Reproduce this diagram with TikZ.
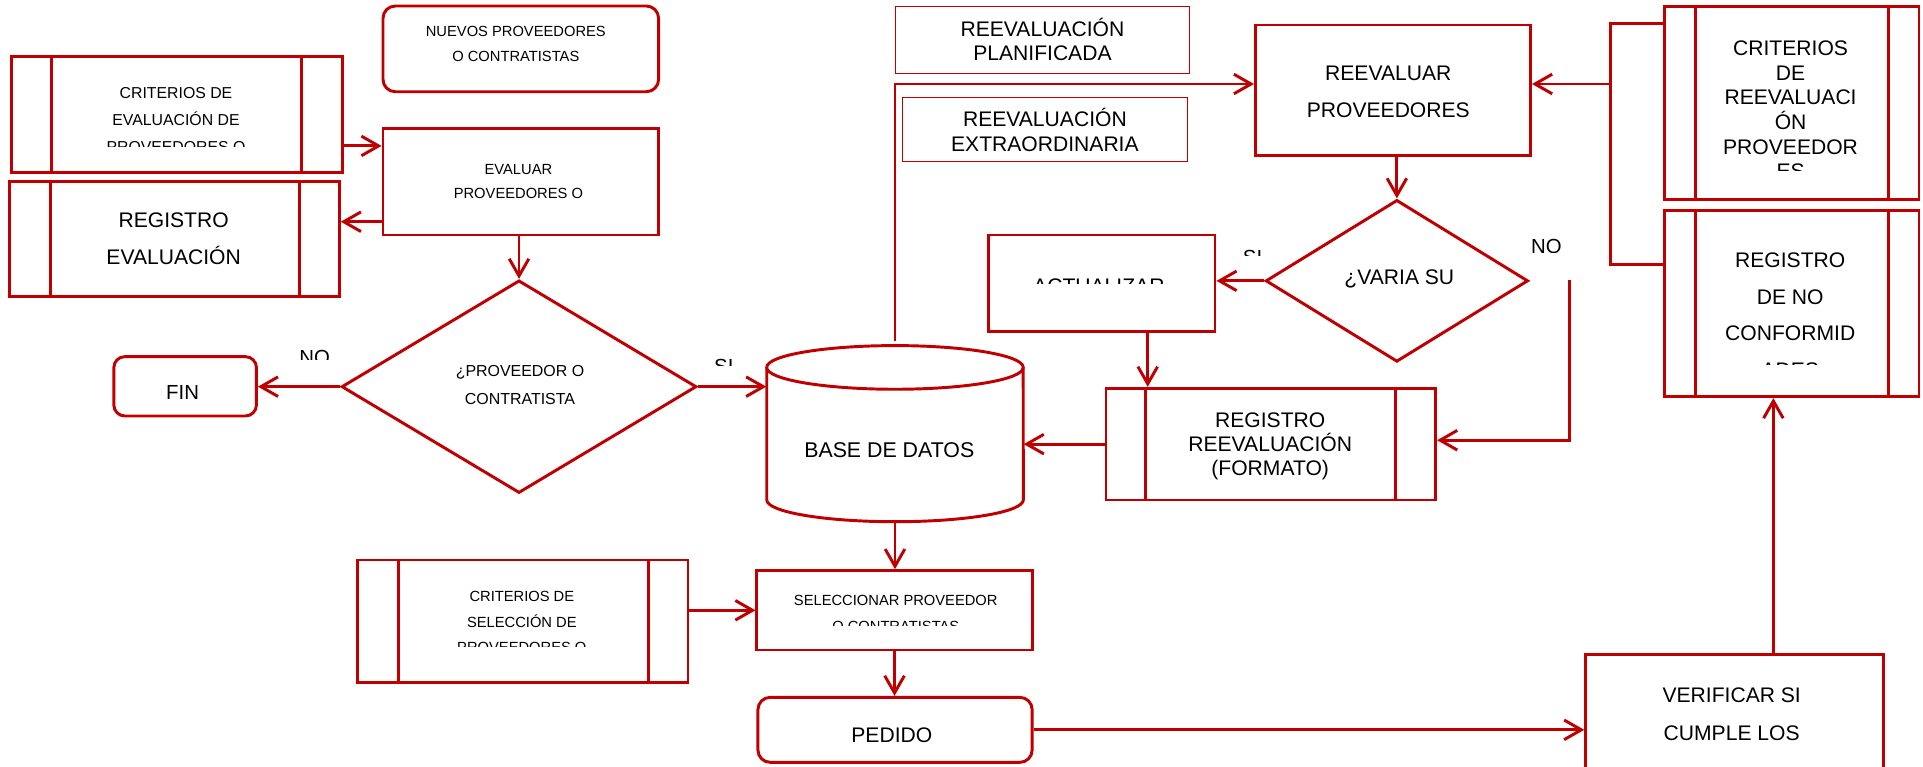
\documentclass[tikz,border=0pt]{standalone}
\usepackage{fontspec}
\setmainfont{Liberation Sans}
\usetikzlibrary{arrows.meta,fit,shapes.geometric}
\definecolor{rd}{RGB}{192,0,0}
\newcommand{\fsz}[2]{\fontsize{#1}{#2}\selectfont\lineskiplimit=-100pt\relax}
\begin{document}
\begin{tikzpicture}[x=0.5pt,y=-0.5pt,
  bx/.style={draw=rd, line width=1.2pt, inner sep=0pt},
  rbx/.style={bx, rounded corners=5pt},
  thinbx/.style={draw=rd, line width=0.5pt, inner sep=0pt},
  hid/.style={inner sep=0pt},
  dia/.style={draw=rd, line width=1.2pt, diamond, inner sep=0pt},
  ln/.style={draw=rd, line width=1.2pt},
  arr/.style={ln, -{Straight Barb[length=7pt,width=8pt]}},
  txt/.style={inner sep=0pt, align=center, anchor=base, text=black}]
\useasboundingbox (0,0) rectangle (1568,625);
\clip (0,0) rectangle (1568,625);
\fill[white] (0,0) rectangle (1568,625);

% boxes
\node[rbx, fit={(312.3,4.9) (537,74.8)}] (nuevos) {};
\node[bx, fit={(9,46.2) (278.9,140.8)}] (critEval) {};
\node[bx, fit={(312.3,104.6) (537,191.6)}] (evaluar) {};
\node[bx, fit={(8,148.1) (276.7,241.9)}] (regEval) {};
\node[dia, minimum width=144.7pt, minimum height=86.7pt] (dia1) at (423.2,315.3) {};
\node[bx, rounded corners=4.5pt, fit={(92.8,290.8) (209.1,339.2)}] (fin) {};
\node[hid, fit={(625.2,281.8) (834.3,425.4)}] (cyl) {};
\node[thinbx, fit={(730.3,5.4) (969.7,59.8)}] (plan) {};
\node[thinbx, fit={(735.7,79.6) (968,131.8)}] (extra) {};
\node[bx, fit={(1023.7,20.4) (1248,127)}] (reev) {};
\node[bx, fit={(1357.4,5.4) (1564.7,163)}] (critReev) {};
\node[bx, fit={(1357.4,172) (1564.7,323.4)}] (regNC) {};
\node[dia, minimum width=107pt, minimum height=66pt] (dia2) at (1139,229) {};
\node[bx, fit={(806,191.6) (990.7,270.4)}] (act) {};
\node[bx, fit={(901.8,316.6) (1170.6,407.7)}] (regReev) {};
\node[bx, fit={(617.2,465.3) (841.6,530)}] (sel) {};
\node[bx, fit={(291.8,456.6) (561,556.6)}] (critSel) {};
\node[rbx, fit={(618,568.6) (841.6,621.6)}] (ped) {};
\node[bx, fit={(1293,534) (1536,700)}] (ver) {};

% predefined-process inner lines
\draw[ln] ([xshift=17pt]critEval.north west) -- ([xshift=17pt]critEval.south west);
\draw[ln] ([xshift=-17.15pt]critEval.north east) -- ([xshift=-17.15pt]critEval.south east);
\draw[ln] ([xshift=17pt]regEval.north west) -- ([xshift=17pt]regEval.south west);
\draw[ln] ([xshift=-16.75pt]regEval.north east) -- ([xshift=-16.75pt]regEval.south east);
\draw[ln] ([xshift=12.95pt]critReev.north west) -- ([xshift=12.95pt]critReev.south west);
\draw[ln] ([xshift=-12.95pt]critReev.north east) -- ([xshift=-12.95pt]critReev.south east);
\draw[ln] ([xshift=12.95pt]regNC.north west) -- ([xshift=12.95pt]regNC.south west);
\draw[ln] ([xshift=-12.95pt]regNC.north east) -- ([xshift=-12.95pt]regNC.south east);
\draw[ln] ([xshift=16.75pt]regReev.north west) -- ([xshift=16.75pt]regReev.south west);
\draw[ln] ([xshift=-16.8pt]regReev.north east) -- ([xshift=-16.8pt]regReev.south east);
\draw[ln] ([xshift=17pt]critSel.north west) -- ([xshift=17pt]critSel.south west);
\draw[ln] ([xshift=-16.8pt]critSel.north east) -- ([xshift=-16.8pt]critSel.south east);

% cylinder
\draw[ln] (729.75,299.6) ellipse [x radius=52.3pt, y radius=8.9pt];
\draw[ln] (625.2,299.6) -- (625.2,407.6) arc[start angle=180, end angle=360, x radius=52.3pt, y radius=8.9pt] -- (834.3,299.6);

% texts (anchor base = last line baseline)
\node[txt, font=\fsz{6}{10.2}] (nuevos-t) at (420.6,50.5) {NUEVOS PROVEEDORES\\O CONTRATISTAS};
\begin{scope}
\clip (0,0) rectangle (1568,119.6);
\node[txt, font=\fsz{6.45}{11.1}] (critEval-t) at (143.5,124.6) {CRITERIOS DE\\EVALUACIÓN DE\\PROVEEDORES O};
\end{scope}
\node[txt, font=\fsz{6}{9.8}] (evaluar-t) at (422.7,161.9) {EVALUAR\\PROVEEDORES O};
\node[txt, font=\fsz{8.6}{14.95}] (regEval-t) at (141.6,215.5) {REGISTRO\\EVALUACIÓN};
\node[txt, font=\fsz{6.5}{11.3}] (dia1-t) at (424,329.5) {¿PROVEEDOR O\\CONTRATISTA};
\node[txt, font=\fsz{8.3}{10}] (fin-t) at (148.9,326.1) {FIN};
\begin{scope}
\clip (0,0) rectangle (1568,293.5);
\node[txt, font=\fsz{8.3}{10}] (no1) at (256.5,297.3) {NO};
\end{scope}
\begin{scope}
\clip (0,0) rectangle (1568,298);
\node[txt, font=\fsz{8.3}{10}] (si1) at (590.2,304.3) {SI};
\end{scope}
\node[txt, font=\fsz{8.7}{10}] (cyl-t) at (725.1,373.2) {BASE DE DATOS};
\node[txt, font=\fsz{8.6}{9.8}] (plan-t) at (850,49.7) {REEVALUACIÓN\\PLANIFICADA};
\node[txt, font=\fsz{8.6}{10.05}] (extra-t) at (852,123.6) {REEVALUACIÓN\\EXTRAORDINARIA};
\node[txt, font=\fsz{8.6}{14.95}] (reev-t) at (1132,95.9) {REEVALUAR\\PROVEEDORES};
\begin{scope}
\clip (0,0) rectangle (1568,139.2);
\node[txt, font=\fsz{8.6}{10}] (critReev-t) at (1460,145.6) {CRITERIOS\\DE\\REEVALUACI\\ÓN\\PROVEEDOR\\ES};
\end{scope}
\begin{scope}
\clip (0,0) rectangle (1568,297);
\node[txt, font=\fsz{8.6}{14.9}] (regNC-t) at (1459.7,307.6) {REGISTRO\\DE NO\\CONFORMID\\ADES};
\end{scope}
\node[txt, font=\fsz{8.6}{10}] (dia2-t) at (1141,231.8) {¿VARIA SU};
\begin{scope}
\clip (0,0) rectangle (1568,208);
\node[txt, font=\fsz{8.3}{10}] (si2) at (1021.3,215.8) {SI};
\end{scope}
\begin{scope}
\clip (0,0) rectangle (1568,206);
\node[txt, font=\fsz{8.3}{10}] (no2) at (1261,206.9) {NO};
\end{scope}
\begin{scope}
\clip (0,0) rectangle (1568,231);
\node[txt, font=\fsz{8.6}{10}] (act-t) at (896,239.3) {ACTUALIZAR};
\end{scope}
\node[txt, font=\fsz{8.6}{9.85}] (regReev-t) at (1035.7,388.1) {REGISTRO\\REEVALUACIÓN\\(FORMATO)};
\begin{scope}
\clip (0,0) rectangle (1568,510.4);
\node[txt, font=\fsz{6}{10.25}] (sel-t) at (730.4,514.6) {SELECCIONAR PROVEEDOR\\O CONTRATISTAS};
\end{scope}
\begin{scope}
\clip (0,0) rectangle (1568,527.3);
\node[txt, font=\fsz{6}{10.5}] (critSel-t) at (425.5,532.3) {CRITERIOS DE\\SELECCIÓN DE\\PROVEEDORES O};
\end{scope}
\node[txt, font=\fsz{8.6}{10}] (ped-t) at (727.2,605.5) {PEDIDO};
\node[txt, font=\fsz{8.6}{15.35}] (ver-t) at (1412,603.6) {VERIFICAR SI\\CUMPLE LOS};

% connectors
\coordinate (c1) at ([yshift=-12.75pt]critEval.east);
\draw[arr] (c1) -- (c1 -| evaluar.west);
\coordinate (c2) at ([yshift=-16.35pt]evaluar.west);
\draw[arr] (c2) -- (c2 -| regEval.east);
\draw[arr] (dia1.north |- evaluar.south) -- (dia1.north);
\draw[arr] (dia1.west) -- (dia1.west -| fin.east);
\draw[arr] (dia1.east) -- (dia1.east -| cyl.west);
\coordinate (c4) at ([yshift=1.6pt]cyl.north);
\coordinate (c5) at ([yshift=2.6pt]reev.west);
\draw[arr] (c4) |- (c5);
\coordinate (b1) at ([yshift=32.6pt]critReev.west);
\coordinate (b2) at ([yshift=16.1pt]regNC.west);
\coordinate (bj) at (1312.8,68.5);
\draw[ln] (b1) -- (b1 -| bj) -- (bj |- b2) -- (b2);
\draw[arr] (bj) -- (bj -| reev.east);
\draw[arr] (dia2.north |- reev.south) -- (dia2.north);
\draw[arr] (dia2.west) -- (dia2.west -| act.east);
\coordinate (n1) at (1280,228.3);
\coordinate (n2) at ([yshift=1.6pt]regReev.east);
\draw[arr] (n1) |- (n2);
\coordinate (a1) at ([xshift=18.75pt]act.south);
\draw[arr] (a1) -- (a1 |- regReev.north);
\draw[arr] (regReev.west) -- (regReev.west -| cyl.east);
\draw[arr] (cyl.south) -- (cyl.south |- sel.north);
\draw[arr] (critSel.east |- sel.west) -- (sel.west);
\draw[arr] (sel.south) -- (sel.south |- ped.north);
\draw[arr] (ped.east) -- (ped.east -| ver.west);
\coordinate (v1) at ([xshift=15.75pt]ver.north);
\draw[arr] (v1) -- (v1 |- regNC.south);
\end{tikzpicture}
\end{document}
